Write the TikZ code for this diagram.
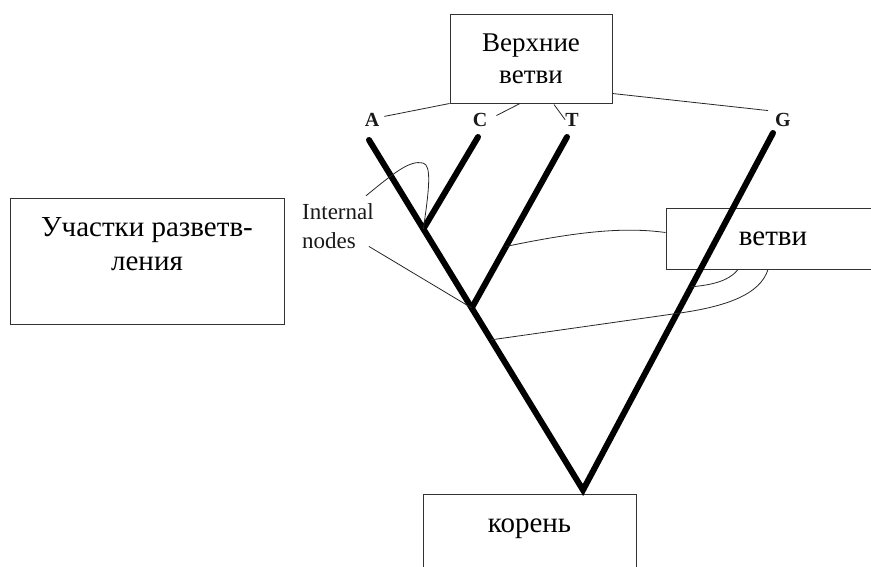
\documentclass[tikz,border=0pt]{standalone}
\usepackage{fontspec}
\setmainfont{Liberation Serif}
\usetikzlibrary{calc}
\begin{document}
\begin{tikzpicture}[x=1pt,y=-1pt,
  box/.style={draw=black!80, line width=1pt, inner sep=0pt, align=center, font=\fontsize{29}{34}\selectfont},
  branch/.style={line width=6pt, line cap=round, line join=miter},
  thinline/.style={draw=black!85, line width=0.8pt},
  leaf/.style={font=\fontsize{20}{24}\selectfont\bfseries, inner sep=1pt, anchor=base, text=black!90}]
\useasboundingbox (0,0) rectangle (871,566);
% boxes
\node[box, minimum width=162pt, minimum height=89pt, font=\fontsize{27}{32}\selectfont] (top) at (531,58.5) {Верхние\\ветви};
\node[box, minimum width=274pt, minimum height=126pt] (uch) at (147,261) {Участки разветв-\\ления\\\mbox{}};
\node[box, minimum width=214pt, minimum height=61pt] (vet) at (773,238.5) {ветви};
\node[box, minimum width=213pt, minimum height=98pt] (kor) at (529.5,543) {корень\\\mbox{}};
% leaf labels
\node[leaf] (lA) at (372,126) {A};
\node[leaf] (lC) at (480,126) {C};
\node[leaf] (lT) at (572,126) {T};
\node[leaf] (lG) at (783,126) {G};
\node[font=\fontsize{23}{29}\selectfont, align=left, anchor=base west, inner sep=0pt, text=black!90] (inn) at (302,248) {Internal\\nodes};
% tree
\coordinate (tA) at (369,140);
\coordinate (tC) at (478,137);
\coordinate (tT) at (567,137);
\coordinate (tG) at (773,133);
\coordinate (root) at (583,490);
\coordinate (n1) at ($(tA)!0.254!(root)$);
\coordinate (n2) at ($(tA)!0.48!(root)$);
\draw[branch] (tA) -- (root) -- (tG);
\draw[branch] (tC) -- (n1);
\draw[branch] (tT) -- (n2);
% points on branches
\coordinate (p1) at ($(tT)!0.64!(n2)$);
\coordinate (p2) at ($(tG)!0.431!(root)$);
\coordinate (p3) at ($(tA)!0.571!(root)$);
% top connectors
\draw[thinline] (top.south west) -- ($(lA.east)+(4,-3)$);
\draw[thinline] ($(top.south)+(-11,0)$) -- ($(lC.north east)+(8,4)$);
\draw[thinline] ($(top.south)+(23,1)$) -- ($(lT.north west)+(1,8)$);
\draw[thinline] ($(top.south east)+(0,-10)$) -- ($(lG.north west)+(-6,-1)$);
% internal nodes callouts
\draw[thinline] ($(inn.north east)+(-8,-7)$) .. controls (395,172) and (410,160) .. (423,163)
  .. controls (432,165) and (429,190) .. (n1);
\draw[thinline] ($(inn.south east)+(-5,-2)$) -- (n2);
% branch callouts
\draw[thinline] ($(vet.west)+(0,-6)$) .. controls (625,227) and (580,231) .. (p1);
\draw[thinline] ($(vet.south)+(-35,0)$) .. controls (728,282) and (710,285) .. (p2);
\draw[thinline] ($(vet.south)+(-5,0)$) .. controls (760,295) and (725,306.5) .. (680,313) -- (p3);
\end{tikzpicture}
\end{document}
